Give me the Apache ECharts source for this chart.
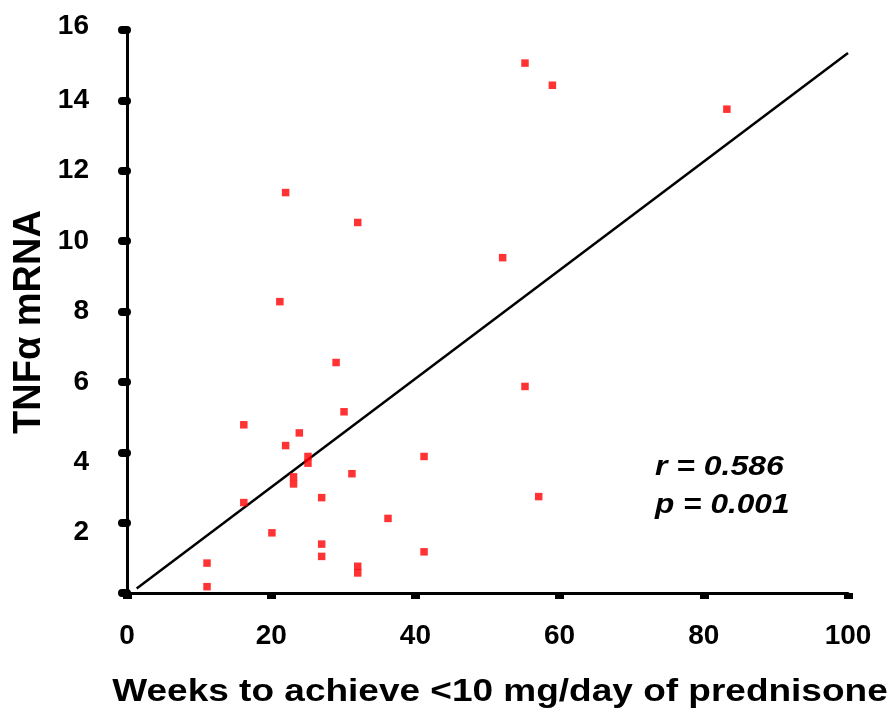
<!DOCTYPE html>
<html>
<head>
<meta charset="utf-8">
<script src="https://cdn.jsdelivr.net/npm/echarts@6/dist/echarts.min.js"></script>
<style>
  html, body { margin: 0; padding: 0; background: #fff; }
  #chart { width: 892px; height: 715px; }
</style>
</head>
<body>
<div id="chart"></div>
<script>
// Weeks to reach <10 mg/day prednisone vs. TNFα mRNA level
const weeks = [22, 32, 21.2, 55.2, 59, 83.2, 52.1, 55.2, 57.1, 29, 30.1, 16.2, 23.9, 22, 25.1, 25.1,
               41.2, 31.2, 23.1, 23.1, 27, 16.2, 36.2, 20.1, 27, 27, 41.2, 11.1, 32, 32, 11.1];
const tnfMrna = [11.38, 10.53, 8.28, 15.06, 14.43, 13.75, 9.53, 5.87, 2.74, 6.55, 5.15, 4.78, 4.55, 4.19, 3.88, 3.69,
                 3.88, 3.39, 3.30, 3.10, 2.71, 2.57, 2.12, 1.71, 1.39, 1.04, 1.17, 0.85, 0.76, 0.57, 0.18];

// Least-squares fit drawn across the plotted range
const fitSlope = 0.1542;
const fitIntercept = -0.077;
const fitRange = [1.34, 100];

const xTicks = [0, 20, 40, 60, 80, 100];
const yTicks = [2, 4, 6, 8, 10, 12, 14, 16];

const statR = 'r = 0.586';
const statP = 'p = 0.001';
const xTitle = 'Weeks to achieve <10 mg/day of prednisone';
const yTitle = 'TNFα mRNA';

const points = weeks.map((w, i) => [w, tnfMrna[i]]);
const fitLine = fitRange.map(x => [x, fitIntercept + fitSlope * x]);

const FONT = '"Liberation Sans", Arial, sans-serif';

// small vertical nudges for a few y tick labels
const baseLabel = { fontSize: 28, fontWeight: 'bold', fontFamily: FONT, color: '#000' };
const yLabelStyle = {
  n: Object.assign({}, baseLabel),
  u: Object.assign({}, baseLabel, { padding: [0, 0, 8, 0] }),
  d: Object.assign({}, baseLabel, { padding: [20, 0, 0, 0] })
};
const yLabelKey = { 16: 'u', 4: 'd', 2: 'd' };

const chart = echarts.init(document.getElementById('chart'), null, { renderer: 'canvas' });

chart.setOption({
  animation: false,
  backgroundColor: '#fff',
  grid: { left: 127, right: 44, top: 30, bottom: 122, containLabel: false },
  xAxis: {
    type: 'value',
    min: 0, max: 100, interval: 20,
    axisLine: { show: true, onZero: false, lineStyle: { color: '#000', width: 3 } },
    axisTick: { show: true, length: 6, lineStyle: { color: '#000', width: 9 } },
    splitLine: { show: false },
    axisLabel: {
      margin: 29,
      fontSize: 28, fontWeight: 'bold', fontFamily: FONT, color: '#000',
      formatter: v => xTicks.includes(v) ? String(v) : ''
    }
  },
  yAxis: {
    type: 'value',
    min: 0, max: 16, interval: 2,
    axisLine: { show: true, onZero: false, lineStyle: { color: '#000', width: 3 } },
    axisTick: { show: true, length: 5, lineStyle: { color: '#000', width: 8, cap: 'round' } },
    splitLine: { show: false },
    axisLabel: {
      margin: 38,
      fontSize: 28, fontWeight: 'bold', fontFamily: FONT, color: '#000',
      formatter: v => yTicks.includes(v) ? '{' + (yLabelKey[v] || 'n') + '|' + v + '}' : '',
      rich: yLabelStyle
    }
  },
  series: [
    {
      type: 'line',
      data: fitLine,
      symbol: 'none',
      lineStyle: { color: '#000', width: 2.5 },
      silent: true,
      z: 2
    },
    {
      type: 'scatter',
      data: points,
      symbol: 'rect',
      symbolSize: 7.5,
      itemStyle: { color: '#ff0000' },
      z: 3
    }
  ],
  graphic: [
    {
      type: 'text', x: 500, y: 692, scaleX: 1.156,
      style: {
        text: xTitle, font: 'bold 32px ' + FONT, fill: '#000',
        align: 'center', verticalAlign: 'middle', textAlign: 'center', textVerticalAlign: 'middle'
      }
    },
    {
      type: 'text', x: 30, y: 322, rotation: Math.PI / 2,
      style: {
        text: yTitle, font: 'bold 38px ' + FONT, fill: '#000',
        align: 'center', verticalAlign: 'middle', textAlign: 'center', textVerticalAlign: 'middle'
      }
    },
    {
      type: 'text', x: 655, y: 467, scaleX: 1.14,
      style: {
        text: statR, font: 'italic bold 28px ' + FONT, fill: '#000',
        align: 'left', verticalAlign: 'middle', textAlign: 'left', textVerticalAlign: 'middle'
      }
    },
    {
      type: 'text', x: 655, y: 505, scaleX: 1.13,
      style: {
        text: statP, font: 'italic bold 28px ' + FONT, fill: '#000',
        align: 'left', verticalAlign: 'middle', textAlign: 'left', textVerticalAlign: 'middle'
      }
    }
  ]
});
</script>
</body>
</html>
